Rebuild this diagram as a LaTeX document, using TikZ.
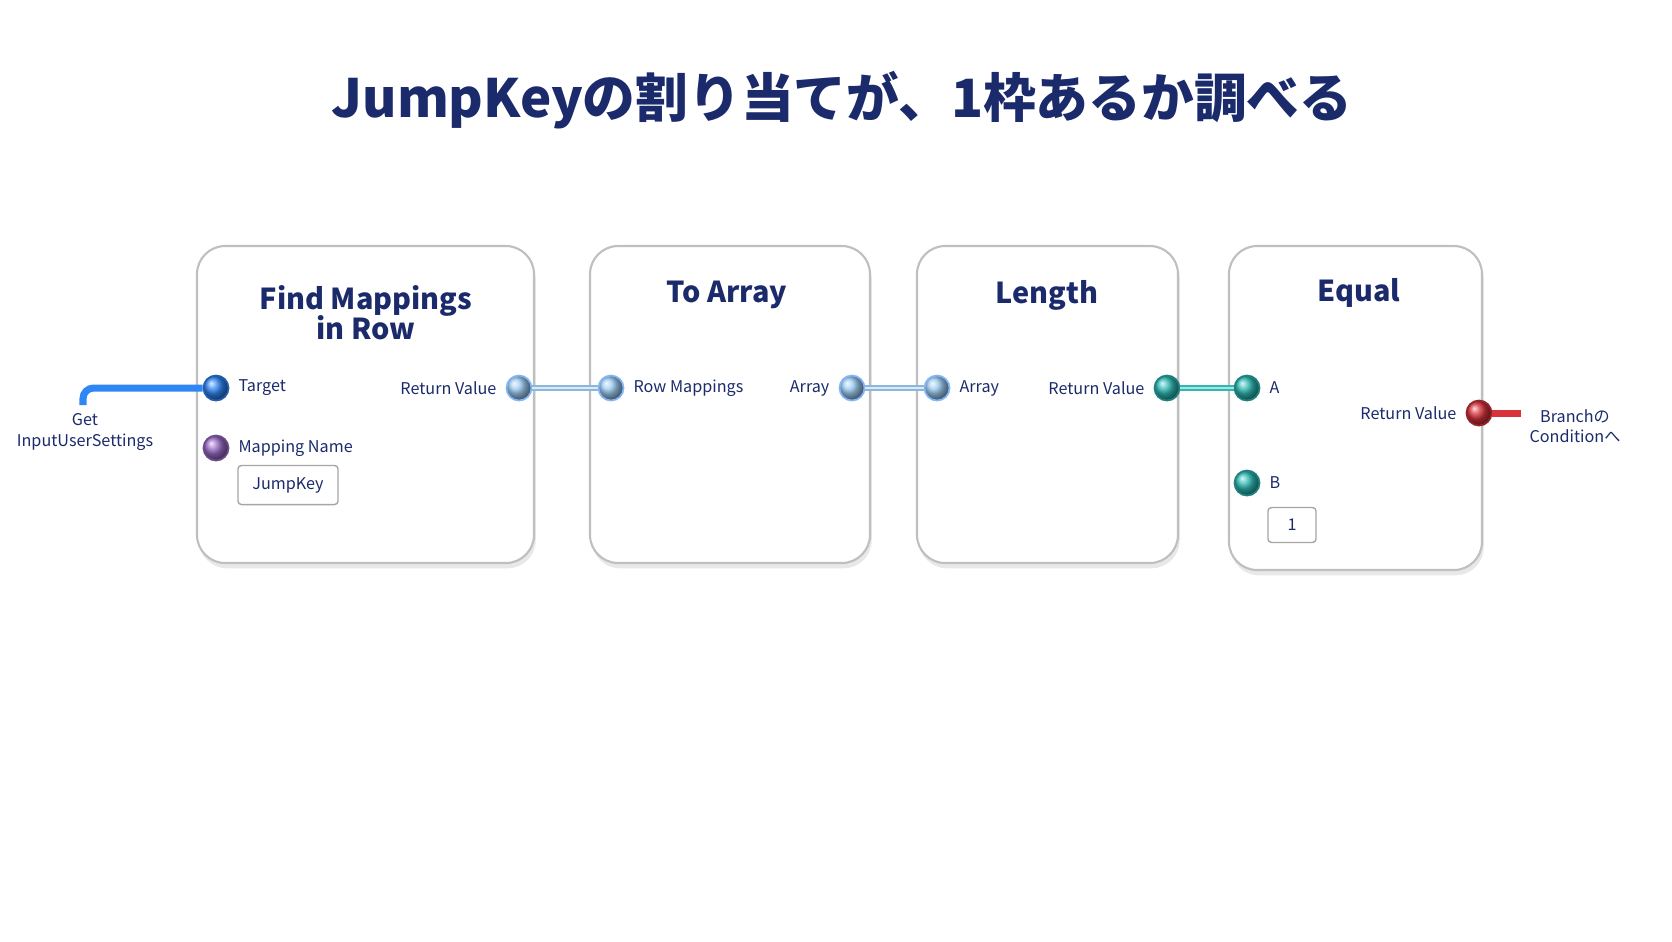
\documentclass[tikz,border=0pt]{standalone}
\usepackage{fontspec}
\setmainfont{Noto Sans CJK JP}
\usetikzlibrary{positioning,shadows}
\definecolor{navy}{HTML}{1B2A6B}
\definecolor{pblue}{HTML}{2F86F5}
\definecolor{plight}{HTML}{9CCBF2}
\definecolor{pteal}{HTML}{2DBAB5}
\definecolor{ppurple}{HTML}{9B6CC8}
\definecolor{pred}{HTML}{D8333A}
\tikzstyle{panel} = [draw=black!25, fill=white, rounded corners=8pt, line width=0.6pt, drop shadow={opacity=0.18, shadow xshift=0.5pt, shadow yshift=-1.5pt}]
\tikzstyle{head} = [text=navy, font=\fontsize{8.2}{9.5}\selectfont\bfseries, align=center]
\tikzstyle{lbl} = [text=navy, font=\fontsize{4.6}{5.8}\selectfont, inner sep=1pt]
\tikzstyle{port} = [circle, draw, line width=0.5pt, minimum size=0.25cm, inner sep=0pt]
\tikzstyle{field} = [draw=black!35, fill=white, rounded corners=1pt, minimum width=1.0cm, minimum height=0.29cm, text=navy, font=\fontsize{4.6}{6}\selectfont]
\tikzstyle{wire} = [double, line width=0.6pt, double distance=0.6pt]
\begin{document}
\begin{tikzpicture}[x=0.01cm, y=-0.01cm]
		\useasboundingbox (0,0) rectangle (1672,941);
		\node [text=navy, font=\fontsize{15}{18}\selectfont\bfseries] (title) at (842,100) {JumpKeyの割り当てが、1枠あるか調べる};
		
		% panels
		\draw [panel] (197,246) rectangle (534,563);
		\draw [panel] (590,246) rectangle (870,563);
		\draw [panel] (917,246) rectangle (1178,563);
		\draw [panel] (1229,246) rectangle (1482,570);
		\node [head] (t1) at (366,313) {Find Mappings\\[-1pt]in Row};
		\node [head] (t2) at (727,295) {To Array};
		\node [head] (t3) at (1047,295) {Length};
		\node [head] (t4) at (1359,293) {Equal};
		
		% ports
		\node [port, draw=pblue!70!black, ball color=pblue] (target) at (216,388) {};
		\node [lbl, right=0.05cm of target] {Target};
		\node [port, draw=ppurple!70!black, ball color=ppurple] (mapname) at (216,448) {};
		\node [lbl, right=0.05cm of mapname] {Mapping Name};
		\node [field] (jumpkey) at (288,485) {JumpKey};
		\node [port, draw=pblue!60, ball color=plight] (rv1) at (519,388) {};
		\node [lbl, left=0.05cm of rv1] {Return Value};
		
		\node [port, draw=pblue!60, ball color=plight] (rowmap) at (611,388) {};
		\node [lbl, right=0.05cm of rowmap] {Row Mappings};
		\node [port, draw=pblue!60, ball color=plight] (arr1) at (852,388) {};
		\node [lbl, left=0.05cm of arr1] {Array};
		
		\node [port, draw=pblue!60, ball color=plight] (arr2) at (937,388) {};
		\node [lbl, right=0.05cm of arr2] {Array};
		\node [port, draw=pteal!70!black, ball color=pteal] (rv3) at (1167,388) {};
		\node [lbl, left=0.05cm of rv3] {Return Value};
		
		\node [port, draw=pteal!70!black, ball color=pteal] (pa) at (1247,388) {};
		\node [lbl, right=0.05cm of pa] {A};
		\node [port, draw=pteal!70!black, ball color=pteal] (pb) at (1247,483) {};
		\node [lbl, right=0.05cm of pb] {B};
		\node [field, minimum width=0.48cm] (one) at (1292,525) {1};
		\node [port, draw=pred!70!black, ball color=pred] (rv4) at (1479,413) {};
		\node [lbl, left=0.05cm of rv4] {Return Value};
		
		% outside labels
		\node [lbl, align=center] (getset) at (85,432) {Get\\InputUserSettings};
		\node [lbl, align=center] (branch) at (1575,426) {Branchの\\Conditionへ};
		\coordinate (gs) at (83,405);
		\coordinate (br) at (1521,413);
		
		% wires
		\draw [pblue, line width=2pt, rounded corners=3pt] (gs) |- (target.west);
		\draw [wire, draw=plight!90!black, double=plight!40] (rv1.east) -- (rowmap.west);
		\draw [wire, draw=plight!90!black, double=plight!40] (arr1.east) -- (arr2.west);
		\draw [wire, draw=pteal, double=pteal!40] (rv3.east) -- (pa.west);
		\draw [pred, line width=2pt] (rv4.east) -- (br);
\end{tikzpicture}
\end{document}
